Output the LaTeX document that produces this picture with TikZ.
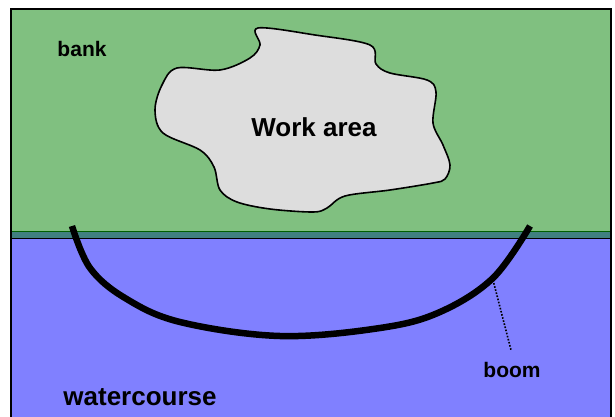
\documentclass[tikz,border=0pt]{standalone}
\usepackage{fontspec}
\setmainfont{Liberation Sans}
\definecolor{bankgreen}{HTML}{80C080}
\definecolor{waterblue}{HTML}{8080FF}
\definecolor{workgray}{HTML}{DDDDDD}
\definecolor{edgeteal}{HTML}{408080}
\definecolor{edgegreen}{HTML}{006000}
\begin{document}
\begin{tikzpicture}[x=1pt,y=-1pt,
  lbl/.style={font=\bfseries\fontsize{21}{24}\selectfont, inner sep=0pt},
  biglbl/.style={font=\bfseries\fontsize{26}{30}\selectfont, inner sep=0pt},
  boomline/.style={line width=6.5pt, line cap=butt},
  leader/.style={line width=1.6pt, dash pattern=on 1.6pt off 1.6pt}]
\useasboundingbox (0,0) rectangle (615,417);
% regions
\fill[bankgreen] (11,9) rectangle (611,232);
\fill[edgeteal] (11,232) rectangle (611,238);
\fill[waterblue] (11,238) rectangle (611,420);
\draw[edgegreen, line width=1.5pt] (11,231.5) -- (611,231.5);
\draw[black, line width=1.5pt] (11,238.5) -- (611,238.5);
\draw[black, line width=1.8pt] (11,420) -- (11,9) -- (611,9) -- (611,420);
% work area
\draw[fill=workgray, line width=1.6pt] plot[smooth cycle, tension=0.55] coordinates {
  (258,28) (315,35) (370,45) (376,64) (390,73) (427,80) (436,92) (433,123)
  (443,145) (450,165) (445,179) (433,183) (390,190) (345,196) (327,208) (313,212)
  (270,209) (237,202) (220,190) (214,167) (200,150) (163,133) (155,110) (162,85)
  (177,68) (220,70) (250,58) (260,45)};
\node[biglbl] (work) at (314,127) {Work area};
% labels
\node[lbl, anchor=base] (bank) at (82,57) {bank};
\node[biglbl, anchor=base] (water) at (140,405) {watercourse};
\node[lbl, anchor=base] (boomtxt) at (512,377) {boom};
% boom
\draw[boomline] plot[smooth, tension=0.6] coordinates {
  (72,226) (90,268) (125,298) (180,322) (280,336) (380,328) (440,312) (493,278) (530,226)};
\coordinate (boompt) at (493,280);
\coordinate (leadend) at (511,350);
\draw[leader] (boompt) -- (leadend);
\end{tikzpicture}
\end{document}
